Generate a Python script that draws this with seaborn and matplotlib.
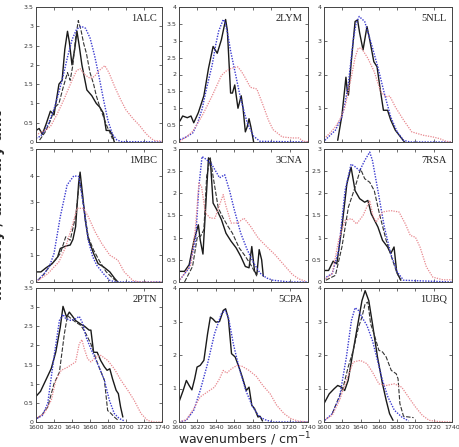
import matplotlib
matplotlib.use("Agg")
import matplotlib.pyplot as plt
import seaborn as sns
from matplotlib.ticker import MultipleLocator, FormatStrFormatter

# --- Data: (wavenumber, intensity) ---
ALC_solid = [(1600,0.3),(1603.5,0.35),(1607,0.2),(1611,0.45),(1616,0.8),(1620,0.7),(1625.5,1.5),(1629,1.6),
             (1632,2.4),(1635,2.87),(1637,2.6),(1640,2.0),(1643,2.4),(1645.5,2.87),(1648,2.5),(1651,2.0),
             (1656.5,1.35),(1662,1.2),(1667,1.0),(1671,0.9),(1675,0.74),(1678,0.3),(1682,0.3),(1684.5,0.2),(1687,0.0)]
ALC_dash = [(1604,0.05),(1610,0.25),(1616,0.55),(1621,0.9),(1625.5,1.0),(1630,1.4),(1635,1.8),(1638,1.6),
            (1641,2.0),(1644,2.7),(1647,3.15),(1650,2.9),(1653,2.55),(1656,2.3),(1660,1.8),(1664,1.5),
            (1667,1.2),(1671,0.9),(1675,0.65),(1679,0.4),(1682,0.25),(1685,0.08)]
ALC_blue = [(1600,0.1),(1605,0.15),(1610,0.3),(1615,0.55),(1620,0.85),(1625,1.25),(1630,1.7),(1635,2.2),
            (1640,2.65),(1645,2.92),(1650,3.0),(1655,2.95),(1660,2.7),(1665,2.25),(1670,1.7),(1675,1.1),
            (1680,0.55),(1685,0.2),(1690,0.05),(1695,0.01),(1740,0.0)]
ALC_red = [(1600,0.17),(1605,0.25),(1610,0.3),(1616,0.4),(1623,0.7),(1631,1.1),(1640,1.6),(1645,1.85),
           (1649,1.9),(1654,1.75),(1660,1.65),(1665,1.7),(1670,1.85),(1676.5,1.98),(1681,1.8),(1687.5,1.43),
           (1694,1.1),(1700,0.83),(1708,0.6),(1715,0.43),(1721,0.25),(1726,0.13),(1731,0.04),(1740,0.02)]

LYM_solid = [(1601,0.62),(1604,0.77),(1609,0.72),(1613,0.77),(1616,0.57),(1621,0.87),(1627,1.37),(1632,2.18),
             (1637,2.83),(1641.5,2.63),(1646,3.03),(1650.6,3.63),(1652.5,3.3),(1656,1.45),(1658,1.45),
             (1660.5,1.69),(1664,1.0),(1667.5,1.37),(1669.5,1.0),(1672,0.3),(1674,0.45),(1676,0.69),
             (1678,0.45),(1681,0.0)]
LYM_blue = [(1601,0.07),(1608,0.15),(1615,0.27),(1620,0.55),(1625,0.97),(1630,1.6),(1636,2.28),(1640,2.9),
            (1643,3.28),(1648,3.63),(1650,3.55),(1653,3.18),(1656,2.7),(1660,2.18),(1667,1.27),(1674,0.57),
            (1681,0.17),(1688,0.02),(1740,0.0)]
LYM_red = [(1601,0.02),(1608,0.15),(1615,0.32),(1625,0.77),(1636,1.37),(1646,1.97),(1651,2.1),(1656.5,2.18),
           (1663.5,2.23),(1667,2.12),(1670.5,1.97),(1677.5,1.62),(1684.5,1.57),(1691.5,1.07),(1697,0.65),
           (1702,0.37),(1712,0.15),(1723,0.12),(1730,0.12),(1735,0.02),(1740,0.01)]

NLL_solid = [(1615,0.05),(1619.6,0.79),(1622,1.4),(1624,1.92),(1625.5,1.5),(1626.7,1.39),(1630,2.43),
             (1634,3.57),(1636.7,3.62),(1639,3.23),(1642.7,2.73),(1647,3.42),(1650,3.03),(1654.5,2.38),
             (1658,2.23),(1661.6,1.54),(1665,0.94),(1669.5,0.94),(1673,0.65),(1678,0.35),(1683.7,0.15),(1688,0.0)]
NLL_blue = [(1601,0.05),(1606,0.18),(1612.5,0.35),(1619.6,0.74),(1623,1.15),(1626.7,1.74),(1632,3.03),
            (1635,3.5),(1638.5,3.72),(1644.5,3.57),(1651.6,2.93),(1658.8,2.23),(1666,1.44),(1673,0.74),
            (1680,0.3),(1687,0.05),(1694,0.0),(1740,0.0)]
NLL_red = [(1600,0.1),(1606,0.25),(1612.5,0.45),(1618,0.7),(1623,1.04),(1630,1.94),(1634,2.5),(1637.4,2.78),
           (1641,2.78),(1648,2.48),(1655,2.08),(1662,1.49),(1667.7,1.34),(1672,1.36),(1678,1.04),(1687,0.65),
           (1696,0.3),(1708.6,0.2),(1719,0.15),(1726.5,0.1),(1733.6,0.02),(1740,0.0)]

MBC_solid = [(1600,0.38),(1605.5,0.38),(1611,0.53),(1618,0.69),(1624,0.94),(1627,1.26),(1633,1.35),(1638,1.39),
             (1641,1.6),(1644,2.08),(1647.4,3.72),(1649,4.13),(1652,3.21),(1654.7,2.33),(1658,1.64),(1664,1.07),
             (1669,0.69),(1675,0.57),(1682,0.38),(1687.5,0.13),(1691,0.0)]
MBC_dash = [(1602,0.06),(1609,0.3),(1616,0.63),(1622,0.85),(1627,1.07),(1633,1.7),(1638,1.57),(1644,2.46),
            (1648.5,3.84),(1653,2.83),(1658,1.7),(1664,1.2),(1671,0.76),(1678,0.38),(1685.7,0.13),(1691,0.0)]
MBC_blue = [(1600,0.0),(1609,0.31),(1615,0.6),(1620,1.07),(1627,2.46),(1634.6,3.65),(1642,3.99),(1647.4,3.97),
            (1650,3.5),(1653,2.83),(1658,1.57),(1663,0.95),(1667.5,0.63),(1675,0.31),(1682,0.06),(1689,0.0),(1740,0.0)]
MBC_red = [(1600,0.0),(1613,0.31),(1625.5,0.76),(1633,1.32),(1640,2.08),(1645.6,2.77),(1653,2.77),(1658,2.46),
           (1665.6,1.89),(1673,1.45),(1682,1.01),(1691,0.82),(1698,0.38),(1707.5,0.06),(1715,0.0),(1740,0.0)]

CNA_solid = [(1600,0.24),(1606,0.24),(1611,0.39),(1616.4,0.95),(1621,1.29),(1623,0.95),(1626,0.63),(1629,1.71),
             (1632,2.8),(1634,2.76),(1637,1.78),(1641,1.63),(1646,1.41),(1651,1.1),(1656.5,0.92),(1662,0.77),
             (1667,0.58),(1672,0.35),(1676,0.32),(1679,0.8),(1682,0.24),(1684.5,0.17),(1687,0.73),(1689.7,0.5),
             (1691.5,0.13)]
CNA_dash = [(1606,0.0),(1614.7,0.35),(1620,1.03),(1623.4,1.03),(1627,1.18),(1630,2.38),(1634,2.8),(1637,2.38),
            (1642.6,1.67),(1648,1.44),(1653,1.26),(1658,1.1),(1665.3,0.77),(1672,0.58),(1679,0.35),(1684.5,0.13)]
CNA_blue = [(1601,0.05),(1611,0.32),(1618,0.95),(1621.6,2.16),(1625,2.83),(1630,2.76),(1635.6,2.65),(1641,2.46),
            (1644,2.35),(1649.6,2.42),(1655,2.05),(1660,1.63),(1667,1.1),(1674,0.73),(1681,0.43),(1688,0.2),
            (1695,0.09),(1702,0.04),(1720,0.0),(1740,0.0)]
CNA_red = [(1601,0.05),(1613,0.39),(1618,1.26),(1621.6,2.23),(1624.4,2.16),(1628.6,1.56),(1634,1.44),(1639,1.44),
           (1644,1.74),(1648,1.97),(1651,1.71),(1656.6,1.33),(1663.5,1.33),(1670.5,1.44),(1677.5,1.26),(1686,0.99),
           (1695,0.8),(1704,0.62),(1712,0.43),(1723,0.17),(1730,0.07),(1737,0.02)]

RSA_solid = [(1600,0.26),(1605,0.26),(1610,0.47),(1614,0.41),(1619.6,1.24),(1625,2.21),(1629.6,2.59),(1634,2.06),
             (1639,1.88),(1644.5,1.8),(1648,1.84),(1651.6,1.54),(1659,1.24),(1664,0.94),(1669.5,0.79),(1673,0.64),
             (1676.6,0.79),(1679.5,0.23),(1684,0.04)]
RSA_dash = [(1602,0.04),(1612.5,0.15),(1619.6,0.79),(1626.7,1.69),(1634,2.14),(1640,2.55),(1644.5,2.33),
            (1650,2.25),(1655,2.06),(1660.6,1.54),(1668,0.94),(1675,0.49),(1680,0.19),(1684,0.04)]
RSA_blue = [(1600,0.08),(1609,0.19),(1616,0.71),(1623,2.06),(1629.6,2.66),(1634,2.6),(1639,2.51),(1644.5,2.74),
            (1650,2.93),(1653,2.74),(1659,2.06),(1666,1.24),(1673,0.64),(1680,0.23),(1687,0.04),(1740,0.0)]
RSA_red = [(1600,0.04),(1609,0.19),(1616,0.94),(1623,1.39),(1630,1.43),(1635.6,1.31),(1642.7,1.5),(1650,1.84),
           (1653.4,1.5),(1657,1.35),(1664,1.58),(1673,1.61),(1682,1.58),(1689,1.31),(1694.4,1.05),(1700,1.01),
           (1705,0.79),(1712,0.34),(1719,0.11),(1730,0.05),(1740,0.05)]

PTN_solid = [(1600,0.67),(1605,0.8),(1611,1.1),(1617,1.4),(1622,1.83),(1627,2.48),(1630,3.02),(1634,2.74),
             (1637,2.87),(1640,2.78),(1644,2.65),(1650,2.55),(1654,2.5),(1659,2.4),(1661,2.4),(1664,1.82),
             (1668,1.82),(1672,1.6),(1676,1.44),(1679,1.35),(1682,1.39),(1685,1.13),(1689,0.83),(1691.5,0.74),
             (1694,0.39),(1696.5,0.13)]
PTN_dash = [(1601,0.09),(1607,0.2),(1613,0.39),(1620,1.0),(1626,1.3),(1631.5,2.3),(1635,2.78),(1639,2.7),
            (1644,2.61),(1650,2.52),(1655.6,2.3),(1661,2.04),(1668.5,1.52),(1676,1.09),(1679.6,0.3),(1683,0.23),
            (1687,0.13),(1691.5,0.04)]
PTN_blue = [(1601,0.09),(1607,0.17),(1613,0.48),(1620,1.7),(1626,2.65),(1630,2.81),(1633,2.7),(1639,2.65),
            (1644.4,2.7),(1648,2.76),(1652,2.57),(1655.6,2.22),(1661,1.91),(1668.5,1.52),(1676,1.09),(1681.5,0.57),
            (1687,0.22),(1692.6,0.09),(1698,0.03)]
PTN_red = [(1600,0.09),(1609,0.22),(1617,0.57),(1622,1.09),(1628,1.35),(1635,1.43),(1644,1.57),(1648,2.04),
           (1651,2.15),(1653.7,1.91),(1657.4,1.65),(1661,1.57),(1666.7,1.7),(1672,1.74),(1679.6,1.61),(1687,1.39),
           (1694.4,1.09),(1702,0.83),(1709,0.57),(1716.7,0.22),(1724,0.04),(1731.5,0.0),(1740,0.0)]

CPA_solid = [(1600,0.6),(1604.5,0.94),(1608,1.24),(1611,1.09),(1614,0.96),(1617,1.29),(1619.6,1.64),(1623,1.69),
             (1627,1.84),(1631,2.63),(1634,3.13),(1636.6,3.08),(1640,2.98),(1644,3.0),(1648,3.33),(1650.6,3.38),
             (1653.6,3.08),(1657,2.04),(1661,1.94),(1665,1.64),(1668.7,1.34),(1673,0.94),(1676,1.04),(1679,0.5),
             (1682,0.4),(1685.7,0.15),(1688,0.17),(1690.6,0.03)]
CPA_blue = [(1600,0.0),(1608,0.05),(1616,0.35),(1623,0.94),(1631,1.74),(1638.5,2.63),(1646,3.23),(1650,3.33),
            (1653.6,3.13),(1659,2.33),(1665,1.64),(1672.5,0.94),(1680,0.45),(1687.5,0.15),(1695,0.05),(1702.6,0.0),
            (1740,0.0)]
CPA_red = [(1600,0.0),(1608,0.07),(1616,0.4),(1623,0.75),(1631,0.9),(1638.5,1.04),(1644,1.29),(1648,1.54),
           (1651.7,1.46),(1657,1.59),(1663,1.69),(1668.7,1.66),(1676,1.54),(1684,1.36),(1691,1.09),(1699,0.84),
           (1706,0.5),(1714,0.25),(1721.5,0.1),(1729,0.03),(1740,0.0)]

UBQ_solid = [(1600,0.55),(1605.7,0.84),(1611,0.99),(1615,1.09),(1619,1.04),(1622.6,0.94),(1626.4,1.24),
             (1632,2.14),(1637.7,3.03),(1641.5,3.62),(1645,3.92),(1649,3.62),(1653,2.93),(1658.5,1.94),
             (1664,1.14),(1668,0.65),(1671.7,0.25),(1675.5,0.05)]
UBQ_dash = [(1609,0.25),(1615,0.65),(1621,1.04),(1626.4,1.64),(1632,2.14),(1637.7,2.83),(1641.5,3.13),(1645,3.53),
            (1648,3.58),(1651,2.93),(1654.7,2.63),(1660,2.14),(1664,2.09),(1668,1.94),(1673.6,1.54),(1679,1.44),
            (1681,1.29),(1683,0.55),(1687,0.17),(1692.5,0.15),(1698,0.13)]
UBQ_blue = [(1601,0.05),(1609,0.25),(1617,0.74),(1624.5,1.94),(1630,3.03),(1634,3.41),(1637.7,3.33),(1641.5,3.13),
            (1647,2.88),(1653,2.43),(1658.5,1.84),(1664,1.24),(1670,0.74),(1677,0.35),(1685,0.15),(1692.5,0.03)]
UBQ_red = [(1600,0.05),(1609,0.2),(1617,0.65),(1624.5,1.24),(1632,1.79),(1639.6,1.84),(1647,1.74),(1653,1.49),
           (1660,1.14),(1668,1.09),(1677,1.14),(1685,1.04),(1692.5,0.74),(1700,0.45),(1707.5,0.2),(1715,0.05),
           (1722.6,0.02),(1740,0.0)]

# panel name, (solid, dashed, blue, red), y max, y tick step
PANELS = [
    ("1ALC", (ALC_solid, ALC_dash, ALC_blue, ALC_red), 3.5, 0.5),
    ("2LYM", (LYM_solid, None, LYM_blue, LYM_red), 4, 0.5),
    ("5NLL", (NLL_solid, None, NLL_blue, NLL_red), 4, 1),
    ("1MBC", (MBC_solid, MBC_dash, MBC_blue, MBC_red), 5, 1),
    ("3CNA", (CNA_solid, CNA_dash, CNA_blue, CNA_red), 3, 0.5),
    ("7RSA", (RSA_solid, RSA_dash, RSA_blue, RSA_red), 3, 0.5),
    ("2PTN", (PTN_solid, PTN_dash, PTN_blue, PTN_red), 3.5, 0.5),
    ("5CPA", (CPA_solid, None, CPA_blue, CPA_red), 4, 1),
    ("1UBQ", (UBQ_solid, UBQ_dash, UBQ_blue, UBQ_red), 4, 1),
]

STYLES = [
    dict(color="#1a1a1a", linestyle="-", linewidth=1.0),
    dict(color="#333333", linestyle=(0, (4, 1.5)), linewidth=0.8),
    dict(color="#3a3ad0", linestyle=(0, (1, 1)), linewidth=1.0),
    dict(color="#e8888f", linestyle=(0, (1, 1)), linewidth=0.9),
]

sns.set_style("ticks")
W, H = 460, 447
fig = plt.figure(figsize=(W / 100, H / 100), dpi=100)

# pixel boxes of the panels
cols = [(36, 162), (179, 308), (324, 452)]
rows = [(7, 142), (149, 282), (288, 422)]

for i, (name, curves, ymax, ystep) in enumerate(PANELS):
    r, c = divmod(i, 3)
    x0, x1 = cols[c]
    y0, y1 = rows[r]
    ax = fig.add_axes([x0 / W, 1 - y1 / H, (x1 - x0) / W, (y1 - y0) / H])
    for data, style in zip(curves, STYLES):
        if data is None:
            continue
        wn = [p[0] for p in data]
        val = [p[1] for p in data]
        sns.lineplot(x=wn, y=val, ax=ax, errorbar=None, **style)
    ax.set_xlim(1600, 1740)
    ax.set_ylim(0, ymax)
    ax.xaxis.set_major_locator(MultipleLocator(20))
    ax.yaxis.set_major_locator(MultipleLocator(ystep))
    ax.yaxis.set_major_formatter(FormatStrFormatter("%g"))
    ax.tick_params(direction="in", top=True, right=True, length=2.5, width=0.5,
                   labelsize=4.5, pad=2, colors="#333333")
    if r < 2:
        ax.set_xticklabels([])
    for sp in ax.spines.values():
        sp.set_linewidth(0.7)
        sp.set_color("#444444")
    ax.set_xlabel("")
    ax.set_ylabel("")
    ax.text(0.96, 0.95, name, transform=ax.transAxes, ha="right", va="top",
            fontsize=7.5, family="Liberation Serif", color="#222222")

fig.text(245 / W, 1 - 439 / H, "wavenumbers / cm$^{-1}$", ha="center", va="center", fontsize=9)
# y label sits half outside the left edge, as in the reference
fig.text(-2 / W, 1 - 205 / H, "Intensity / arbitrary unit", rotation=90, ha="center", va="center",
         fontsize=10, fontweight="bold")

fig.savefig("out.png", dpi=100)
